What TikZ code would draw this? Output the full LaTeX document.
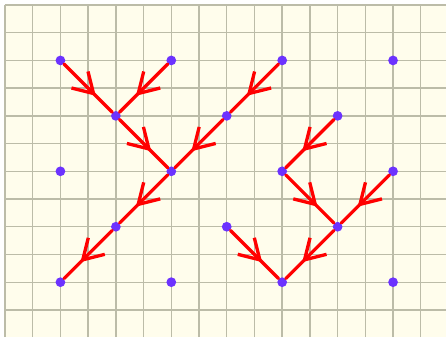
\documentclass[tikz,border=0pt]{standalone}
\usetikzlibrary{arrows.meta,decorations.markings}
\definecolor{cream}{RGB}{255,253,236}
\definecolor{gridcol}{RGB}{188,188,168}
\definecolor{dotblue}{RGB}{108,50,255}
\tikzset{
  dot/.style={circle,fill=dotblue,inner sep=0pt,minimum size=5pt},
  flow/.style={red,line width=1.7pt,line cap=round,postaction={decorate},
    decoration={markings,mark=at position 0.66 with {\arrow{Straight Barb[length=10pt,width=12pt,line width=1.7pt]}}}}
}
\begin{document}
\begin{tikzpicture}[x=0.5cm,y=0.5cm]
            \useasboundingbox[fill=white] (-0.18,0.02) rectangle (15.91,12.18);
            \fill[cream] (0,0.02) rectangle (15.91,12);
            \foreach \x in {0,...,15}{
                \draw[gridcol,line width=0.7pt] (\x,0.02)--(\x,12);
            }
            \foreach \y in {1,...,12}{
                \draw[gridcol,line width=0.7pt] (0,\y)--(15.91,\y);
            }
            % points of the lattice
            \foreach \x in {2,6,10,14}{
                \foreach \y in {2,6,10}{
                    \node[dot] (d\x-\y) at (\x,\y) {};
                }
            }
            \foreach \x in {4,8,12}{
                \foreach \y in {4,8}{
                    \node[dot] (d\x-\y) at (\x,\y) {};
                }
            }
            % left tree
            \draw[flow] (d2-10)--(d4-8);
            \draw[flow] (d6-10)--(d4-8);
            \draw[flow] (d4-8)--(d6-6);
            \draw[flow] (d10-10)--(d8-8);
            \draw[flow] (d8-8)--(d6-6);
            \draw[flow] (d6-6)--(d4-4);
            \draw[flow] (d4-4)--(d2-2);
            % right tree
            \draw[flow] (d12-8)--(d10-6);
            \draw[flow] (d10-6)--(d12-4);
            \draw[flow] (d14-6)--(d12-4);
            \draw[flow] (d12-4)--(d10-2);
            \draw[flow] (d8-4)--(d10-2);
        \end{tikzpicture}
\end{document}
